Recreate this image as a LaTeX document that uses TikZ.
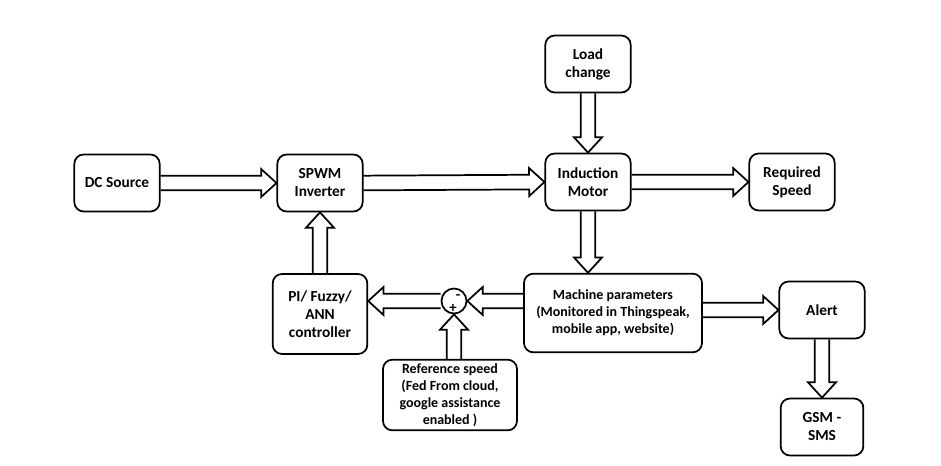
\documentclass[tikz,border=0pt]{standalone}
\usepackage{fontspec}
\setmainfont{Carlito}
\usetikzlibrary{calc}

\newcommand{\fatarrow}[2]{%
  \draw[fatline] let \p1=(#1), \p2=(#2),
    \n1={atan2(\y2-\y1,\x2-\x1)}, \n2={veclen(\x2-\x1,\y2-\y1)-11.5} in
    ($(\p1)+(\n1+90:5.5pt)$) -- ++(\n1:\n2) -- ++(\n1+90:5pt) -- (\p2)
    -- ($(\p2)+(\n1+180:11.5pt)+(\n1-90:10.5pt)$) -- ++(\n1+90:5pt)
    -- ($(\p1)+(\n1-90:5.5pt)$);}

\begin{document}
\begin{tikzpicture}[x=0.75pt, y=-0.75pt,
    box/.style={draw, rounded corners=7pt, line width=1.3pt, align=center,
      minimum width=64pt, minimum height=42.75pt, inner sep=2pt,
      font=\bfseries\fontsize{11.5}{13.5}\selectfont},
    smallbox/.style={box, font=\bfseries\fontsize{10.5}{12.75}\selectfont},
    fatline/.style={line width=1.3pt, line join=miter}]
  \useasboundingbox (0,0) rectangle (941,465);
  \node[box] (dc) at (117,183) {DC Source};
  \node[box] (spwm) at (320,183) {SPWM\\Inverter};
  \node[box] (motor) at (588,182) {Induction\\Motor};
  \node[box] (load) at (588,64) {Load\\change};
  \node[box] (speed) at (792,182) {Required\\Speed};
  \node[box, minimum width=71pt, minimum height=60pt] (ctrl) at (320,314) {PI/ Fuzzy/\\ANN\\controller};
  \node[circle, draw, line width=1.3pt, minimum size=18.75pt, inner sep=0pt] (sum) at (454,301) {};
  \node[inner sep=0pt, font=\bfseries\fontsize{11}{12}\selectfont] (minus) at (458,297) {-};
  \node[inner sep=0pt, font=\bfseries\fontsize{11}{12}\selectfont] (plus) at (453,308) {+};
  \node[smallbox, minimum width=133.5pt, minimum height=59pt] (mach) at (613,313) {Machine parameters\\(Monitored in Thingspeak,\\mobile app, website)};
  \node[smallbox, minimum width=100.5pt, minimum height=53pt] (ref) at (450,395) {Reference speed\\(Fed From cloud,\\google assistance\\enabled )};
  \node[box] (alert) at (822,310) {Alert};
  \node[box, minimum width=62pt] (gsm) at (822,427) {GSM -\\SMS};

  \fatarrow{dc.east}{spwm.west}
  \fatarrow{spwm.east}{motor.west}
  \fatarrow{load.south}{motor.north}
  \fatarrow{motor.east}{speed.west}
  \fatarrow{motor.south}{motor.south |- mach.north}
  \fatarrow{sum.east -| mach.west}{sum.east}
  \fatarrow{sum.west}{sum.west -| ctrl.east}
  \fatarrow{ref.north -| sum.south}{sum.south}
  \fatarrow{ctrl.north}{spwm.south}
  \fatarrow{alert.west -| mach.east}{alert.west}
  \fatarrow{alert.south}{gsm.north}
\end{tikzpicture}
\end{document}
